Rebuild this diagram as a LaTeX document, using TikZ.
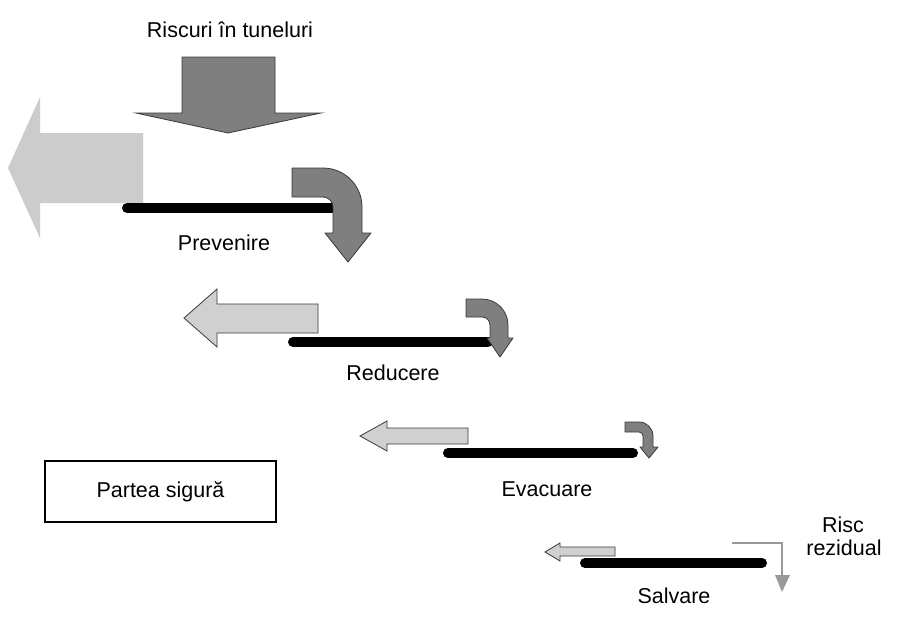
\documentclass[tikz,border=0pt]{standalone}
\usepackage{fontspec}
\setmainfont{Liberation Sans}
\definecolor{darkarrow}{HTML}{7F7F7F}
\definecolor{lightbig}{HTML}{CCCCCC}
\definecolor{lightarrow}{HTML}{D0D0D0}
\definecolor{edgegray}{HTML}{3A3A3A}
\definecolor{residual}{HTML}{999999}
\tikzset{
  lbl/.style={font=\fontsize{21.5}{25}\selectfont, inner sep=0pt},
  bar/.style={line width=10pt, line cap=round, black},
  darkblock/.style={fill=darkarrow, draw=edgegray, line width=0.8pt, line join=round},
  lightblock/.style={fill=lightarrow, draw=edgegray, line width=0.8pt, line join=miter},
  bigblock/.style={fill=lightbig, draw=none},
  safebox/.style={draw=black, line width=1.2pt, minimum width=231pt, minimum height=61pt, font=\fontsize{21.5}{25}\selectfont}
}
% #1 L, #2 T (=cy-R), #3 cx, #4 cy, #5 R, #6 r, #7 H, #8 head left, #9 head right; tip is coordinate (tipc)
\newcommand{\bentarrow}[9]{%
  \path[darkblock] (#1,#2) -- (#3,#2) arc[start angle=-90, end angle=0, radius=#5]
    -- ({#3+#5},#7) -- (#9,#7) -- (tipc) -- (#8,#7) -- ({#3+#6},#7) -- ({#3+#6},#4)
    arc[start angle=0, end angle=-90, radius=#6] -- (#1,{#4-#6}) -- cycle;}
\begin{document}
\begin{tikzpicture}[x=1pt,y=-1pt]
\useasboundingbox (0,0) rectangle (898,622);
\fill[white] (0,0) rectangle (898,622);

% title and big down arrow
\node[lbl] (title) at (230,30) {Riscuri în tuneluri};
\path[fill=darkarrow, draw=edgegray, line width=0.8pt, line join=miter]
  (182,57) -- (275,57) -- (275,113) -- (321,113) -- (228,133) -- (136,113) -- (182,113) -- cycle;

% big light arrow (Prevenire)
\path[bigblock] (143,133) -- (143,203) -- (40,203) -- (40,238) -- (8,168) -- (40,97) -- (40,133) -- cycle;

% row 1
\coordinate (b1l) at (127,208);
\coordinate (b1r) at (332,208);
\draw[bar] (b1l) -- (b1r);
\coordinate (tipc) at (348,262);
\bentarrow{292}{168}{323}{207}{39}{10}{233}{325}{371}
\node[lbl] (prev) at (224,243) {Prevenire};

% row 2
\path[lightblock] (318,304) -- (318,333) -- (217,333) -- (217,347) -- (184,318) -- (217,289) -- (217,304) -- cycle;
\coordinate (b2l) at (293,342);
\coordinate (b2r) at (488,342);
\draw[bar] (b2l) -- (b2r);
\coordinate (tipc) at (500,357);
\bentarrow{466}{299}{482}{325}{26}{8}{338}{487}{513}
\node[lbl] (red) at (393,373) {Reducere};

% row 3
\path[lightblock] (468,428) -- (468,444) -- (387,444) -- (387,451) -- (360,436) -- (387,421) -- (387,428) -- cycle;
\coordinate (b3l) at (448,453);
\coordinate (b3r) at (633,453);
\draw[bar] (b3l) -- (b3r);
\coordinate (tipc) at (649,458);
\bentarrow{625}{422}{639}{436}{14}{4}{447}{640}{658}
\node[lbl] (evac) at (547,489) {Evacuare};

% row 4
\path[lightblock] (615,547) -- (615,556) -- (560,556) -- (560,561) -- (545,552) -- (560,543) -- (560,547) -- cycle;
\coordinate (b4l) at (585,563);
\coordinate (b4r) at (762,563);
\draw[bar] (b4l) -- (b4r);
\coordinate (r0) at (732,543);
\coordinate (r1) at (782,543);
\coordinate (r2) at (782,575);
\draw[residual, line width=1.6pt] (r0) -- (r1) -- (r2);
\fill[residual] (775,575) -- (790,575) -- (782,592) -- cycle;
\node[lbl] (salv) at (674,596) {Salvare};
\node[lbl] (risc) at (843,525) {Risc};
\node[lbl] (rez) at (844,548) {rezidual};

% safe part box
\node[safebox] (safe) at (160.5,491.5) {Partea sigură};
\end{tikzpicture}
\end{document}
